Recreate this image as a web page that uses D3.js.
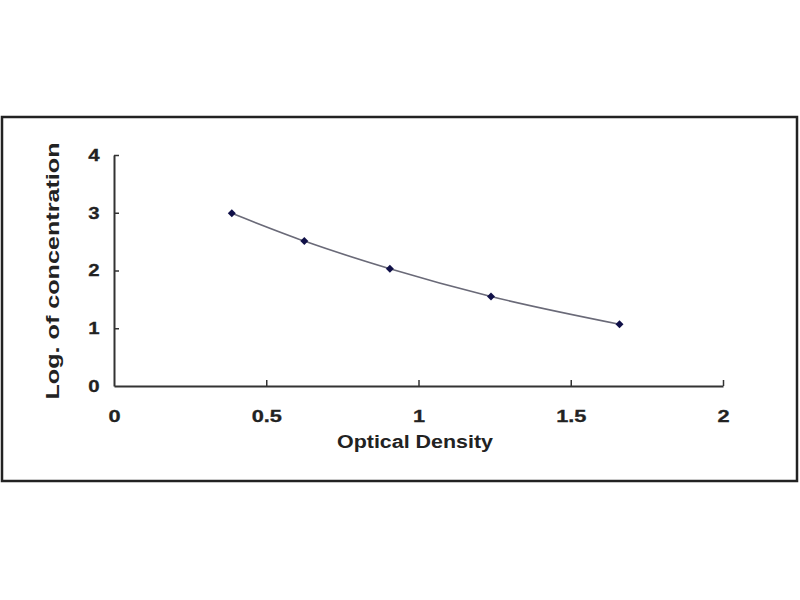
<!DOCTYPE html>
<html>
<head>
<meta charset="utf-8">
<script src="https://cdn.jsdelivr.net/npm/d3@7"></script>
<style>
  html, body { margin: 0; padding: 0; background: #fff; }
  svg { display: block; }
</style>
</head>
<body>
<svg id="chart"></svg>
<script>
/*	Standard curve data----------------------------*/
const odValues   = [0.387, 0.625, 0.906, 1.238, 1.66];
const logConc    = [2.99, 2.51, 2.03, 1.55, 1.07];
const xTickVals  = [0, 0.5, 1, 1.5, 2];
const yTickVals  = [0, 1, 2, 3, 4];
const xTitle     = "Optical Density";
const yTitle     = "Log. of concentration";

const width = 800, height = 600;
const font = "'Liberation Sans', Arial, sans-serif";

const svg = d3.select("#chart")
	.attr("width", width)
	.attr("height", height);

/*	Outer frame------------------------------------*/
svg.append("rect")
	.attr("x", 2).attr("y", 117)
	.attr("width", 795).attr("height", 364)
	.attr("fill", "#fff")
	.attr("stroke", "#222")
	.attr("stroke-width", 2.5);

/*	Scales-----------------------------------------*/
const x = d3.scaleLinear().domain([0, 2]).range([114, 723]);
const y = d3.scaleLinear().domain([0, 4]).range([386, 155]);

/*	Axes, ticks pointing into the plot-------------*/
const xAxis = svg.append("g")
	.attr("transform", "translate(0," + y(0) + ")")
	.call(d3.axisBottom(x).tickValues(xTickVals).tickFormat(d3.format("")).tickSizeInner(-6).tickSizeOuter(0).tickPadding(24));

const yAxis = svg.append("g")
	.attr("transform", "translate(" + x(0) + ",0)")
	.call(d3.axisLeft(y).tickValues(yTickVals).tickFormat(d3.format("")).tickSizeInner(-5).tickSizeOuter(0).tickPadding(12));

[xAxis, yAxis].forEach(function(g){
	g.select(".domain").attr("stroke", "#333").attr("stroke-width", 2);
	g.selectAll(".tick line").attr("stroke", "#333").attr("stroke-width", 1.5);
	g.selectAll(".tick text")
		.attr("fill", "#222")
		.attr("stroke", "#222")
		.attr("stroke-width", 0.3)
		.style("font-family", font)
		.style("font-size", "17px")
		.style("font-weight", "bold");
});
xAxis.selectAll(".tick text").attr("transform", "scale(1.28,1)");
yAxis.selectAll(".tick text").attr("transform", "scale(1.2,1)");
/*	No tick on the origin of the axes--------------*/
xAxis.selectAll(".tick line").filter(function(d){ return d === 0; }).remove();
yAxis.selectAll(".tick line").filter(function(d){ return d === 0; }).remove();

/*	Fitted curve through the points----------------*/
const pts = odValues.map(function(v, i){ return [v, logConc[i]]; });
const line = d3.line()
	.x(function(d){ return x(d[0]); })
	.y(function(d){ return y(d[1]); })
	.curve(d3.curveMonotoneX);

svg.append("path")
	.datum(pts)
	.attr("d", line)
	.attr("fill", "none")
	.attr("stroke", "#6a6a78")
	.attr("stroke-width", 1.6);

/*	Diamond markers (square turned 45 deg)---------*/
svg.append("g").selectAll("path")
	.data(pts)
	.join("path")
	.attr("transform", function(d){ return "translate(" + x(d[0]) + "," + y(d[1]) + ") rotate(45)"; })
	.attr("d", d3.symbol().type(d3.symbolSquare).size(32))
	.attr("fill", "#101048");

/*	Axis titles------------------------------------*/
svg.append("text")
	.attr("x", 415).attr("y", 448)
	.attr("text-anchor", "middle")
	.attr("textLength", 156)
	.attr("lengthAdjust", "spacingAndGlyphs")
	.attr("fill", "#222")
	.style("font-family", font)
	.style("font-size", "18px")
	.style("font-weight", "bold")
	.text(xTitle);

svg.append("text")
	.attr("transform", "translate(59,271) rotate(-90)")
	.attr("text-anchor", "middle")
	.attr("textLength", 257)
	.attr("lengthAdjust", "spacingAndGlyphs")
	.attr("fill", "#222")
	.style("font-family", font)
	.style("font-size", "18px")
	.style("font-weight", "bold")
	.text(yTitle);
</script>
</body>
</html>
